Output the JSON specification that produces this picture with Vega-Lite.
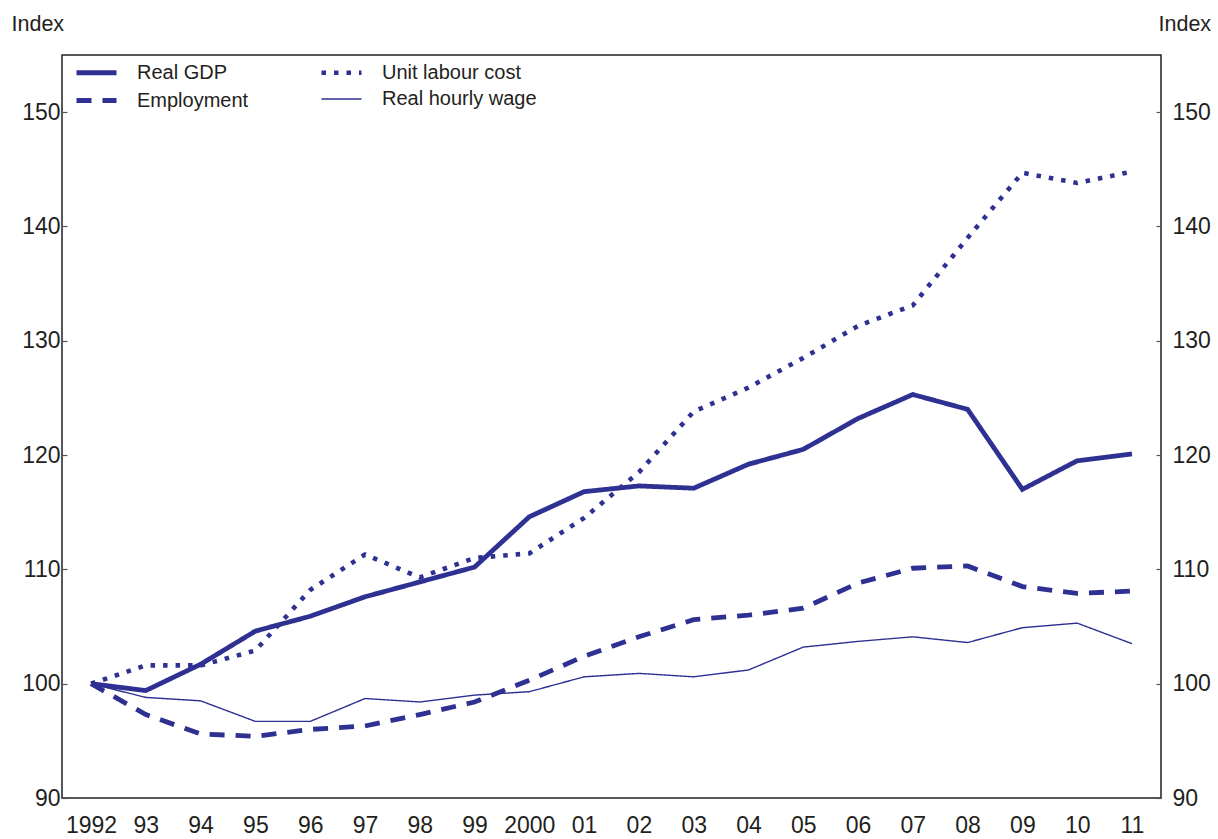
{
  "$schema": "https://vega.github.io/schema/vega-lite/v6.json",
  "width": 1099,
  "height": 743,
  "autosize": {"type": "none"},
  "padding": {"left": 62, "top": 55, "right": 57, "bottom": 41},
  "background": "white",
  "config": {
    "font": "Liberation Sans",
    "view": {"stroke": "#231f20", "strokeWidth": 1.5},
    "axis": {"labelColor": "#231f20", "titleColor": "#231f20", "labelFont": "Liberation Sans", "titleFont": "Liberation Sans", "grid": false, "domain": false},
    "legend": {"title": null, "orient": "none", "legendX": 22, "legendY": 5, "columns": 2, "direction": "horizontal", "symbolType": "M-2,0L2,0", "symbolSize": 400, "labelFontSize": 20, "labelColor": "#231f20", "labelOffset": 28, "columnPadding": 63, "rowPadding": 5, "padding": 0, "labelFont": "Liberation Sans"}
  },
  "data": {"values": [
    {"year": "1992", "series": "Real GDP", "value": 100},
    {"year": "93", "series": "Real GDP", "value": 99.4},
    {"year": "94", "series": "Real GDP", "value": 101.7},
    {"year": "95", "series": "Real GDP", "value": 104.6},
    {"year": "96", "series": "Real GDP", "value": 105.9},
    {"year": "97", "series": "Real GDP", "value": 107.6},
    {"year": "98", "series": "Real GDP", "value": 108.9},
    {"year": "99", "series": "Real GDP", "value": 110.2},
    {"year": "2000", "series": "Real GDP", "value": 114.6},
    {"year": "01", "series": "Real GDP", "value": 116.8},
    {"year": "02", "series": "Real GDP", "value": 117.3},
    {"year": "03", "series": "Real GDP", "value": 117.1},
    {"year": "04", "series": "Real GDP", "value": 119.2},
    {"year": "05", "series": "Real GDP", "value": 120.5},
    {"year": "06", "series": "Real GDP", "value": 123.2},
    {"year": "07", "series": "Real GDP", "value": 125.3},
    {"year": "08", "series": "Real GDP", "value": 124.0},
    {"year": "09", "series": "Real GDP", "value": 117.0},
    {"year": "10", "series": "Real GDP", "value": 119.5},
    {"year": "11", "series": "Real GDP", "value": 120.1},
    {"year": "1992", "series": "Employment", "value": 100},
    {"year": "93", "series": "Employment", "value": 97.3},
    {"year": "94", "series": "Employment", "value": 95.6},
    {"year": "95", "series": "Employment", "value": 95.4},
    {"year": "96", "series": "Employment", "value": 96.0},
    {"year": "97", "series": "Employment", "value": 96.3},
    {"year": "98", "series": "Employment", "value": 97.3},
    {"year": "99", "series": "Employment", "value": 98.4},
    {"year": "2000", "series": "Employment", "value": 100.3},
    {"year": "01", "series": "Employment", "value": 102.4},
    {"year": "02", "series": "Employment", "value": 104.1},
    {"year": "03", "series": "Employment", "value": 105.6},
    {"year": "04", "series": "Employment", "value": 106.0},
    {"year": "05", "series": "Employment", "value": 106.6},
    {"year": "06", "series": "Employment", "value": 108.8},
    {"year": "07", "series": "Employment", "value": 110.1},
    {"year": "08", "series": "Employment", "value": 110.3},
    {"year": "09", "series": "Employment", "value": 108.5},
    {"year": "10", "series": "Employment", "value": 107.9},
    {"year": "11", "series": "Employment", "value": 108.1},
    {"year": "1992", "series": "Unit labour cost", "value": 100},
    {"year": "93", "series": "Unit labour cost", "value": 101.6},
    {"year": "94", "series": "Unit labour cost", "value": 101.6},
    {"year": "95", "series": "Unit labour cost", "value": 102.9},
    {"year": "96", "series": "Unit labour cost", "value": 108.2},
    {"year": "97", "series": "Unit labour cost", "value": 111.3},
    {"year": "98", "series": "Unit labour cost", "value": 109.3},
    {"year": "99", "series": "Unit labour cost", "value": 111.0},
    {"year": "2000", "series": "Unit labour cost", "value": 111.4},
    {"year": "01", "series": "Unit labour cost", "value": 114.5},
    {"year": "02", "series": "Unit labour cost", "value": 118.5},
    {"year": "03", "series": "Unit labour cost", "value": 123.8},
    {"year": "04", "series": "Unit labour cost", "value": 125.9},
    {"year": "05", "series": "Unit labour cost", "value": 128.5},
    {"year": "06", "series": "Unit labour cost", "value": 131.3},
    {"year": "07", "series": "Unit labour cost", "value": 133.1},
    {"year": "08", "series": "Unit labour cost", "value": 139.0},
    {"year": "09", "series": "Unit labour cost", "value": 144.7},
    {"year": "10", "series": "Unit labour cost", "value": 143.8},
    {"year": "11", "series": "Unit labour cost", "value": 144.8},
    {"year": "1992", "series": "Real hourly wage", "value": 100},
    {"year": "93", "series": "Real hourly wage", "value": 98.8},
    {"year": "94", "series": "Real hourly wage", "value": 98.5},
    {"year": "95", "series": "Real hourly wage", "value": 96.7},
    {"year": "96", "series": "Real hourly wage", "value": 96.7},
    {"year": "97", "series": "Real hourly wage", "value": 98.7},
    {"year": "98", "series": "Real hourly wage", "value": 98.4},
    {"year": "99", "series": "Real hourly wage", "value": 99.0},
    {"year": "2000", "series": "Real hourly wage", "value": 99.3},
    {"year": "01", "series": "Real hourly wage", "value": 100.6},
    {"year": "02", "series": "Real hourly wage", "value": 100.9},
    {"year": "03", "series": "Real hourly wage", "value": 100.6},
    {"year": "04", "series": "Real hourly wage", "value": 101.2},
    {"year": "05", "series": "Real hourly wage", "value": 103.2},
    {"year": "06", "series": "Real hourly wage", "value": 103.7},
    {"year": "07", "series": "Real hourly wage", "value": 104.1},
    {"year": "08", "series": "Real hourly wage", "value": 103.6},
    {"year": "09", "series": "Real hourly wage", "value": 104.9},
    {"year": "10", "series": "Real hourly wage", "value": 105.3},
    {"year": "11", "series": "Real hourly wage", "value": 103.5}
  ]},
  "encoding": {
    "x": {
      "field": "year", "type": "ordinal", "sort": null,
      "scale": {"type": "point", "padding": 0.53},
      "axis": {"title": null, "labelAngle": 0, "ticks": false, "labelFontSize": 23, "labelPadding": 16, "labelColor": "#231f20"}
    },
    "y": {
      "field": "value", "type": "quantitative",
      "scale": {"domain": [90, 155], "nice": false, "zero": false}
    }
  },
  "layer": [
    {
      "mark": {"type": "line", "strokeCap": "butt", "strokeJoin": "miter"},
      "encoding": {
        "y": {
          "field": "value", "type": "quantitative",
          "axis": {"orient": "left", "values": [90, 100, 110, 120, 130, 140, 150], "tickSize": -5, "tickColor": "#555555", "tickWidth": 1.2, "labelFontSize": 23, "labelPadding": 7, "labelBaseline": "middle",
            "title": "Index", "titleAngle": 0, "titleAlign": "left", "titleBaseline": "middle", "titleFontSize": 21.5, "titleFontWeight": "normal", "titleX": -51, "titleY": -31}
        },
        "color": {
          "field": "series", "type": "nominal",
          "scale": {"domain": ["Real GDP", "Unit labour cost", "Employment", "Real hourly wage"], "range": ["#2e3192", "#2e3192", "#2e3192", "#2e3192"]}
        },
        "strokeDash": {
          "field": "series", "type": "nominal",
          "scale": {"domain": ["Real GDP", "Unit labour cost", "Employment", "Real hourly wage"], "range": [[1, 0], [4.5, 8], [15, 11], [1, 0]]}
        },
        "strokeWidth": {
          "field": "series", "type": "ordinal", "sort": null,
          "scale": {"type": "ordinal", "domain": ["Real GDP", "Unit labour cost", "Employment", "Real hourly wage"], "range": [4.8, 4.6, 4.8, 1.4]}
        },
        "detail": {"field": "series"}
      }
    },
    {
      "mark": {"type": "line", "opacity": 0},
      "encoding": {
        "detail": {"field": "series"},
        "y": {
          "field": "value", "type": "quantitative",
          "axis": {"orient": "right", "values": [90, 100, 110, 120, 130, 140, 150], "tickSize": -5, "tickColor": "#555555", "tickWidth": 1.2, "labelFontSize": 23, "labelPadding": 16, "labelBaseline": "middle",
            "title": "Index", "titleAngle": 0, "titleAlign": "left", "titleBaseline": "middle", "titleFontSize": 21.5, "titleFontWeight": "normal", "titleX": -3, "titleY": -31}
        }
      }
    }
  ],
  "resolve": {"axis": {"y": "independent"}}
}
